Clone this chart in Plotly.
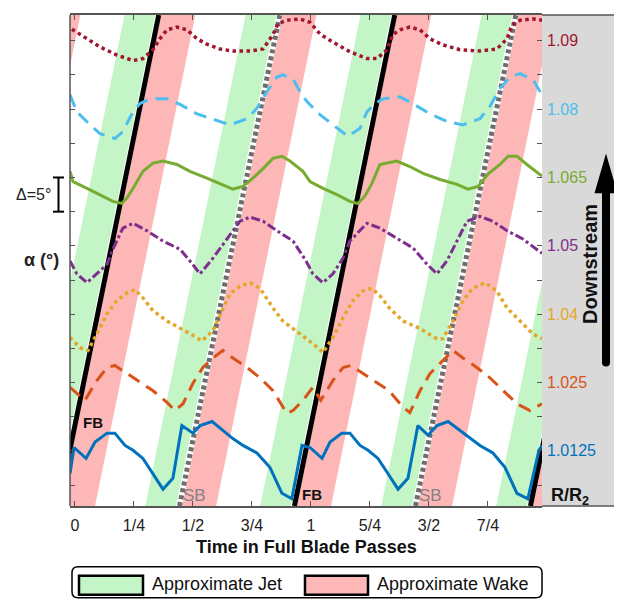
import plotly.graph_objects as go

# ---------------- data ----------------
tick_vals = [0, 0.25, 0.5, 0.75, 1, 1.25, 1.5, 1.75]
tick_text = ['0', '1/4', '1/2', '3/4', '1', '5/4', '3/2', '7/4']

radius_labels = ['1.0125', '1.025', '1.04', '1.05', '1.065', '1.08', '1.09']
radius_label_alpha = [5, 15, 25, 35, 45, 55, 65]
series_colors = ['#0072BD', '#D95319', '#E3A82B', '#7E2F8E', '#77AC30', '#4DBEEE', '#A2142F']
series_dash = ['solid', '13px,8px', 'dot', 'dashdot', 'solid', '13px,8px', 'dot']

# time in blade passes / flow angle alpha (deg, offset per radius)
t_10125 = [-0.021, -0.004, 0.047, 0.085, 0.136, 0.169, 0.212, 0.246, 0.288, 0.331, 0.373, 0.415,
           0.453, 0.500, 0.530, 0.581, 0.627, 0.669, 0.712, 0.771, 0.826, 0.877, 0.919, 0.962,
           0.996, 1.047, 1.081, 1.131, 1.165, 1.208, 1.242, 1.284, 1.326, 1.369, 1.411,
           1.453, 1.496, 1.534, 1.581, 1.631, 1.674, 1.716, 1.771, 1.822, 1.873, 1.919, 1.966, 1.979]
a_10125 = [1.7, 5.5, 3.9, 6.3, 7.6, 7.6, 5.8, 5.1, 3.9, 1.7, -0.6, 1.0,
           8.7, 7.6, 8.7, 9.3, 8.0, 6.8, 5.8, 4.7, 2.6, -1.2, -2.0, 5.8,
           5.5, 3.9, 6.3, 7.6, 7.6, 5.8, 5.1, 3.9, 1.7, -0.6, 1.0,
           8.7, 7.3, 8.7, 9.3, 8.0, 6.8, 5.8, 4.7, 2.6, -1.2, -2.0, 5.1, 5.8]

t_1025 = [-0.021, 0.008, 0.042, 0.093, 0.136, 0.169, 0.220, 0.275, 0.331, 0.390, 0.424, 0.458,
          0.500, 0.542, 0.585, 0.627, 0.669, 0.729, 0.784, 0.839, 0.898, 0.924, 0.966,
          1.008, 1.042, 1.093, 1.136, 1.169, 1.220, 1.275, 1.331, 1.390, 1.419,
          1.462, 1.504, 1.559, 1.602, 1.644, 1.703, 1.758, 1.814, 1.873, 1.928, 1.979]
a_1025 = [14.3, 13.4, 12.4, 15.3, 17.2, 17.5, 16.3, 15.0, 13.8, 12.1, 10.9, 11.9,
          14.9, 17.2, 18.6, 19.7, 18.6, 17.2, 15.7, 13.8, 10.5, 10.9, 12.4,
          14.3, 12.4, 15.3, 17.2, 17.5, 16.3, 15.0, 13.8, 11.4, 10.6,
          13.8, 16.3, 18.2, 19.7, 18.6, 17.2, 15.7, 13.8, 11.9, 10.9, 11.9]

t_104 = [-0.021, 0.021, 0.055, 0.093, 0.136, 0.178, 0.220, 0.254, 0.288, 0.331, 0.390, 0.445,
         0.500, 0.538, 0.585, 0.623, 0.657, 0.699, 0.742, 0.784, 0.839, 0.881, 0.953,
         1.008, 1.051, 1.093, 1.136, 1.178, 1.220, 1.258, 1.292, 1.335, 1.390, 1.462,
         1.534, 1.559, 1.602, 1.644, 1.686, 1.737, 1.788, 1.831, 1.886, 1.941, 1.979]
a_104 = [21.6, 20.1, 19.7, 22.1, 25.1, 27.0, 28.1, 28.6, 27.4, 25.5, 24.0, 23.0,
         21.9, 21.1, 22.6, 25.5, 28.0, 29.1, 29.6, 28.8, 25.9, 24.0, 22.1,
         20.7, 19.4, 21.6, 24.5, 27.0, 28.4, 28.8, 27.7, 25.8, 24.0, 22.9,
         21.4, 21.4, 24.0, 27.0, 28.8, 29.6, 28.4, 25.9, 24.0, 22.1, 21.4]

t_105 = [-0.021, 0.008, 0.051, 0.093, 0.136, 0.161, 0.203, 0.246, 0.305, 0.373, 0.445, 0.487,
         0.530, 0.585, 0.657, 0.699, 0.742, 0.797, 0.856, 0.924, 0.979,
         1.008, 1.051, 1.093, 1.136, 1.165, 1.237, 1.292, 1.364, 1.432, 1.492, 1.534,
         1.576, 1.631, 1.661, 1.716, 1.771, 1.831, 1.898, 1.979]
a_105 = [32.8, 30.9, 29.6, 30.9, 32.3, 34.5, 37.6, 38.3, 37.2, 35.7, 34.5, 32.8,
         30.9, 33.2, 36.7, 38.6, 39.2, 38.6, 37.2, 35.7, 32.8,
         30.9, 29.6, 30.9, 33.2, 35.7, 38.3, 37.6, 36.1, 34.7, 32.3, 30.9,
         32.8, 36.7, 38.6, 39.3, 38.6, 37.2, 36.0, 33.9]

t_1065 = [-0.021, -0.008, 0.051, 0.106, 0.161, 0.199, 0.220, 0.246, 0.288, 0.331, 0.373, 0.432,
          0.487, 0.559, 0.614, 0.669, 0.712, 0.754, 0.797, 0.839, 0.877, 0.911, 0.966,
          0.996, 1.051, 1.110, 1.165, 1.199, 1.229, 1.258, 1.292, 1.322, 1.364, 1.419,
          1.475, 1.547, 1.619, 1.665, 1.708, 1.750, 1.801, 1.835, 1.873, 1.915, 1.979]
a_1065 = [45.9, 44.4, 43.4, 42.5, 41.5, 41.2, 42.0, 43.4, 45.9, 47.1, 47.4, 46.9,
          45.9, 44.9, 44.1, 43.3, 43.7, 44.9, 46.3, 47.8, 48.1, 47.4, 45.9,
          44.4, 43.4, 42.5, 41.5, 41.2, 42.3, 44.1, 46.9, 47.1, 47.4, 46.6,
          45.6, 44.7, 44.0, 43.3, 43.7, 45.5, 46.9, 48.1, 48.1, 46.9, 45.2]

t_108 = [-0.021, 0.008, 0.064, 0.106, 0.169, 0.203, 0.225, 0.246, 0.275, 0.318, 0.390, 0.445,
         0.517, 0.585, 0.657, 0.729, 0.771, 0.814, 0.856, 0.881, 0.924, 0.953, 0.983,
         1.038, 1.093, 1.157, 1.208, 1.237, 1.271, 1.305, 1.377, 1.432, 1.504,
         1.576, 1.644, 1.716, 1.758, 1.801, 1.843, 1.886, 1.941, 1.979]
a_108 = [57.1, 54.6, 52.7, 51.4, 50.7, 51.7, 53.2, 54.6, 55.8, 56.5, 56.5, 55.7,
         54.3, 53.5, 52.7, 53.6, 55.1, 57.6, 59.7, 60.0, 59.4, 57.6, 56.1,
         54.2, 52.7, 51.0, 52.2, 54.6, 55.8, 56.5, 56.8, 55.8, 54.3,
         53.2, 52.7, 53.6, 55.4, 58.0, 59.7, 60.2, 59.3, 57.1]

t_109 = [-0.013, 0.051, 0.106, 0.178, 0.246, 0.288, 0.331, 0.360, 0.390, 0.432, 0.475, 0.517,
         0.559, 0.614, 0.669, 0.742, 0.797, 0.839, 0.860, 0.898, 0.953, 0.996,
         1.038, 1.093, 1.165, 1.237, 1.280, 1.322, 1.347, 1.377, 1.419, 1.462, 1.504,
         1.559, 1.631, 1.716, 1.788, 1.831, 1.852, 1.886, 1.941, 1.979]
a_109 = [66.7, 65.3, 64.1, 62.9, 62.1, 62.4, 63.7, 65.3, 66.6, 67.0, 66.6, 65.3,
         64.5, 63.8, 63.5, 63.5, 63.8, 65.9, 67.5, 68.0, 68.2, 67.7,
         66.0, 64.8, 63.4, 62.4, 62.4, 63.7, 65.9, 66.6, 67.0, 66.6, 65.3,
         64.4, 63.7, 63.5, 63.8, 65.3, 67.3, 68.0, 68.2, 68.0]

series_t = [t_10125, t_1025, t_104, t_105, t_1065, t_108, t_109]
series_a = [a_10125, a_1025, a_104, a_105, a_1065, a_108, a_109]

# blade positions (time at the bottom of the axis), lean across full height
fb_base = [-1.07, -0.07, 0.93, 1.93]
sb_base = [-0.557, 0.443, 1.443]
blade_lean = 0.425
jet_rel = [-0.145, -0.015]    # jet band relative to each blade
wake_rel = [0.010, 0.155]     # wake band relative to each blade

x_range = [-0.021, 1.979]
y_range = [-3.06, 68.77]
alpha_ticks = list(range(0, 70, 5))

# ---------------- figure ----------------
# page body has an 8px margin: figure is placed at (8, 8) in the window
OFF = 8
W, H = 622 - OFF, 599 - OFF
ML, MR, MT, MB = 70 - OFF, 80, 13 - OFF, 93
PW, PH = W - ML - MR, H - MT - MB
# helpers: window pixel -> paper coordinate
def px(xp):
    return (xp - OFF - ML) / PW
def py(yp):
    return (H - MB - (yp - OFF)) / PH

ybot, ytop = y_range
fig = go.Figure()

def band(bases, rel):
    xs, ys = [], []
    for b in bases:
        x0, x1 = b + rel[0], b + rel[1]
        xs += [x0, x1, x1 + blade_lean, x0 + blade_lean, x0, None]
        ys += [ybot, ybot, ytop, ytop, ybot, None]
    return xs, ys

JET, WAKE = '#c4f5c6', '#fdb7b7'
for rel, col, nm in [(jet_rel, JET, 'Approximate Jet'), (wake_rel, WAKE, 'Approximate Wake')]:
    xs, ys = band(fb_base + sb_base, rel)
    fig.add_trace(go.Scatter(x=xs, y=ys, fill='toself', fillcolor=col, mode='lines',
                             line=dict(width=0, color=col), name=nm, showlegend=False,
                             hoverinfo='skip'))

def blade_lines(bases):
    xs, ys = [], []
    for b in bases:
        xs += [b, b + blade_lean, None]
        ys += [ybot, ytop, None]
    return xs, ys

xs, ys = blade_lines(fb_base)
fig.add_trace(go.Scatter(x=xs, y=ys, mode='lines', line=dict(color='black', width=5),
                         showlegend=False, hoverinfo='skip'))
xs, ys = blade_lines(sb_base)
fig.add_trace(go.Scatter(x=xs, y=ys, mode='lines', line=dict(color='white', width=5),
                         showlegend=False, hoverinfo='skip'))
fig.add_trace(go.Scatter(x=xs, y=ys, mode='lines',
                         line=dict(color='#6e6e6e', width=5, dash='4px,3px'),
                         showlegend=False, hoverinfo='skip'))

for t, a, c, d, nm in zip(series_t, series_a, series_colors, series_dash, radius_labels):
    w = 3.5 if d == 'dot' else 3
    fig.add_trace(go.Scatter(x=t, y=a, mode='lines', line=dict(color=c, width=w, dash=d),
                             name=nm, showlegend=False))

FONT = 'Liberation Sans, Arial, sans-serif'
AX = '#555555'

shapes = []
# gray panel on the right
shapes.append(dict(type='rect', xref='paper', yref='paper', x0=1, x1=px(617), y0=0, y1=1,
                   fillcolor='#d9d9d9', line=dict(width=0), layer='below'))
for yv in (0, 1):
    shapes.append(dict(type='line', xref='paper', yref='paper', x0=1, x1=px(617), y0=yv, y1=yv,
                       line=dict(color=AX, width=1.5)))
# left frame line
shapes.append(dict(type='line', xref='paper', yref='paper', x0=0, x1=0, y0=0, y1=1,
                   line=dict(color=AX, width=1.5)))
# delta = 5 deg bracket
bx, c0, c1 = px(58.5), px(53), px(64)
shapes.append(dict(type='line', xref='paper', yref='y', x0=bx, x1=bx, y0=40, y1=45,
                   line=dict(color='black', width=2)))
for yv in (40, 45):
    shapes.append(dict(type='line', xref='paper', yref='y', x0=c0, x1=c1, y0=yv, y1=yv,
                       line=dict(color='black', width=2)))
# downstream arrow
shapes.append(dict(type='path', xref='paper', yref='paper',
                   path=f"M {px(602)},{py(190)} L {px(610)},{py(190)} L {px(610)},{py(362)} "
                        f"L {px(602)},{py(362)} Z",
                   fillcolor='black', line=dict(width=0)))
shapes.append(dict(type='circle', xref='paper', yref='paper', x0=px(602), x1=px(610),
                   y0=py(366), y1=py(358), fillcolor='black', line=dict(width=0)))
shapes.append(dict(type='path', xref='paper', yref='paper',
                   path=f"M {px(594.5)},{py(192)} L {px(617.5)},{py(192)} L {px(606)},{py(152)} Z",
                   fillcolor='black', line=dict(width=0)))
# legend box
x0, x1, y0, y1 = px(72), px(542), py(598), py(567)
rx, ry = 6 / PW, 6 / PH
shapes.append(dict(type='path', xref='paper', yref='paper',
                   path=(f"M {x0+rx},{y1} L {x1-rx},{y1} Q {x1},{y1} {x1},{y1-ry} L {x1},{y0+ry} "
                         f"Q {x1},{y0} {x1-rx},{y0} L {x0+rx},{y0} Q {x0},{y0} {x0},{y0+ry} "
                         f"L {x0},{y1-ry} Q {x0},{y1} {x0+rx},{y1} Z"),
                   fillcolor='white', line=dict(color='black', width=1.5)))
shapes.append(dict(type='rect', xref='paper', yref='paper', x0=px(79), x1=px(143),
                   y0=py(595), y1=py(576), fillcolor=JET, line=dict(color='black', width=2.5)))
shapes.append(dict(type='rect', xref='paper', yref='paper', x0=px(305), x1=px(368),
                   y0=py(595), y1=py(576), fillcolor=WAKE, line=dict(color='black', width=2.5)))

def A(**kw):
    d = dict(showarrow=False, xanchor='center', yanchor='middle')
    d.update(kw)
    return d

ann = []
for lab, av, c in zip(radius_labels, radius_label_alpha, series_colors):
    ann.append(A(x=px(545), xref='paper', y=av, yref='y', text=lab, xanchor='left',
                 font=dict(size=16, color=c)))
ann.append(A(x=px(53), xref='paper', y=42.5, yref='y', text='Δ=5°', xanchor='right',
             font=dict(size=16, color='#222')))
ann.append(A(x=px(61), xref='paper', y=32.9, yref='y', text='<b>α (°)</b>', xanchor='right',
             font=dict(size=18, color='#222')))
ann.append(A(x=px(590), xref='paper', y=py(263), yref='paper', text='<b>Downstream</b>',
             textangle=-90, font=dict(size=20, color='#111')))
ann.append(A(x=px(570), xref='paper', y=py(496), yref='paper', text='<b>R/R<sub>2</sub></b>',
             font=dict(size=18, color='#111')))
ann.append(A(x=px(306), xref='paper', y=py(547), yref='paper',
             text='<b>Time in Full Blade Passes</b>', font=dict(size=18, color='#111')))
# blade labels
for xv, yv in [(0.076, 9.2), (1.004, -1.4)]:
    ann.append(A(x=xv, y=yv, xref='x', yref='y', text='<b>FB</b>',
                 font=dict(size=15, color='#111')))
for xv in (0.508, 1.508):
    ann.append(A(x=xv, y=-1.5, xref='x', yref='y', text='SB',
                 font=dict(size=17, color='#8a8080')))
# legend texts
ann.append(A(x=px(150), xref='paper', y=py(584), yref='paper', text='Approximate Jet',
             xanchor='left', font=dict(size=18, color='#111')))
ann.append(A(x=px(375), xref='paper', y=py(584), yref='paper', text='Approximate Wake',
             xanchor='left', font=dict(size=18, color='#111')))

fig.update_layout(
    width=W, height=H,
    margin=dict(l=ML, r=MR, t=MT, b=MB),
    paper_bgcolor='white', plot_bgcolor='white',
    font=dict(family=FONT, size=16, color='#222'),
    showlegend=False,
    shapes=shapes, annotations=ann,
    xaxis=dict(range=x_range, tickvals=tick_vals, ticktext=tick_text, ticks='inside',
               ticklen=5, tickcolor=AX, tickwidth=1, showline=True, linecolor=AX, linewidth=1.5,
               mirror='ticks', showgrid=False, zeroline=False, ticklabelstandoff=4,
               tickfont=dict(size=16, color='#222')),
    yaxis=dict(range=y_range, tickvals=alpha_ticks, showticklabels=False, ticks='inside',
               ticklen=5, tickcolor=AX, tickwidth=1, showline=False, mirror='ticks',
               showgrid=False, zeroline=False),
)

fig.write_html('out.html')
